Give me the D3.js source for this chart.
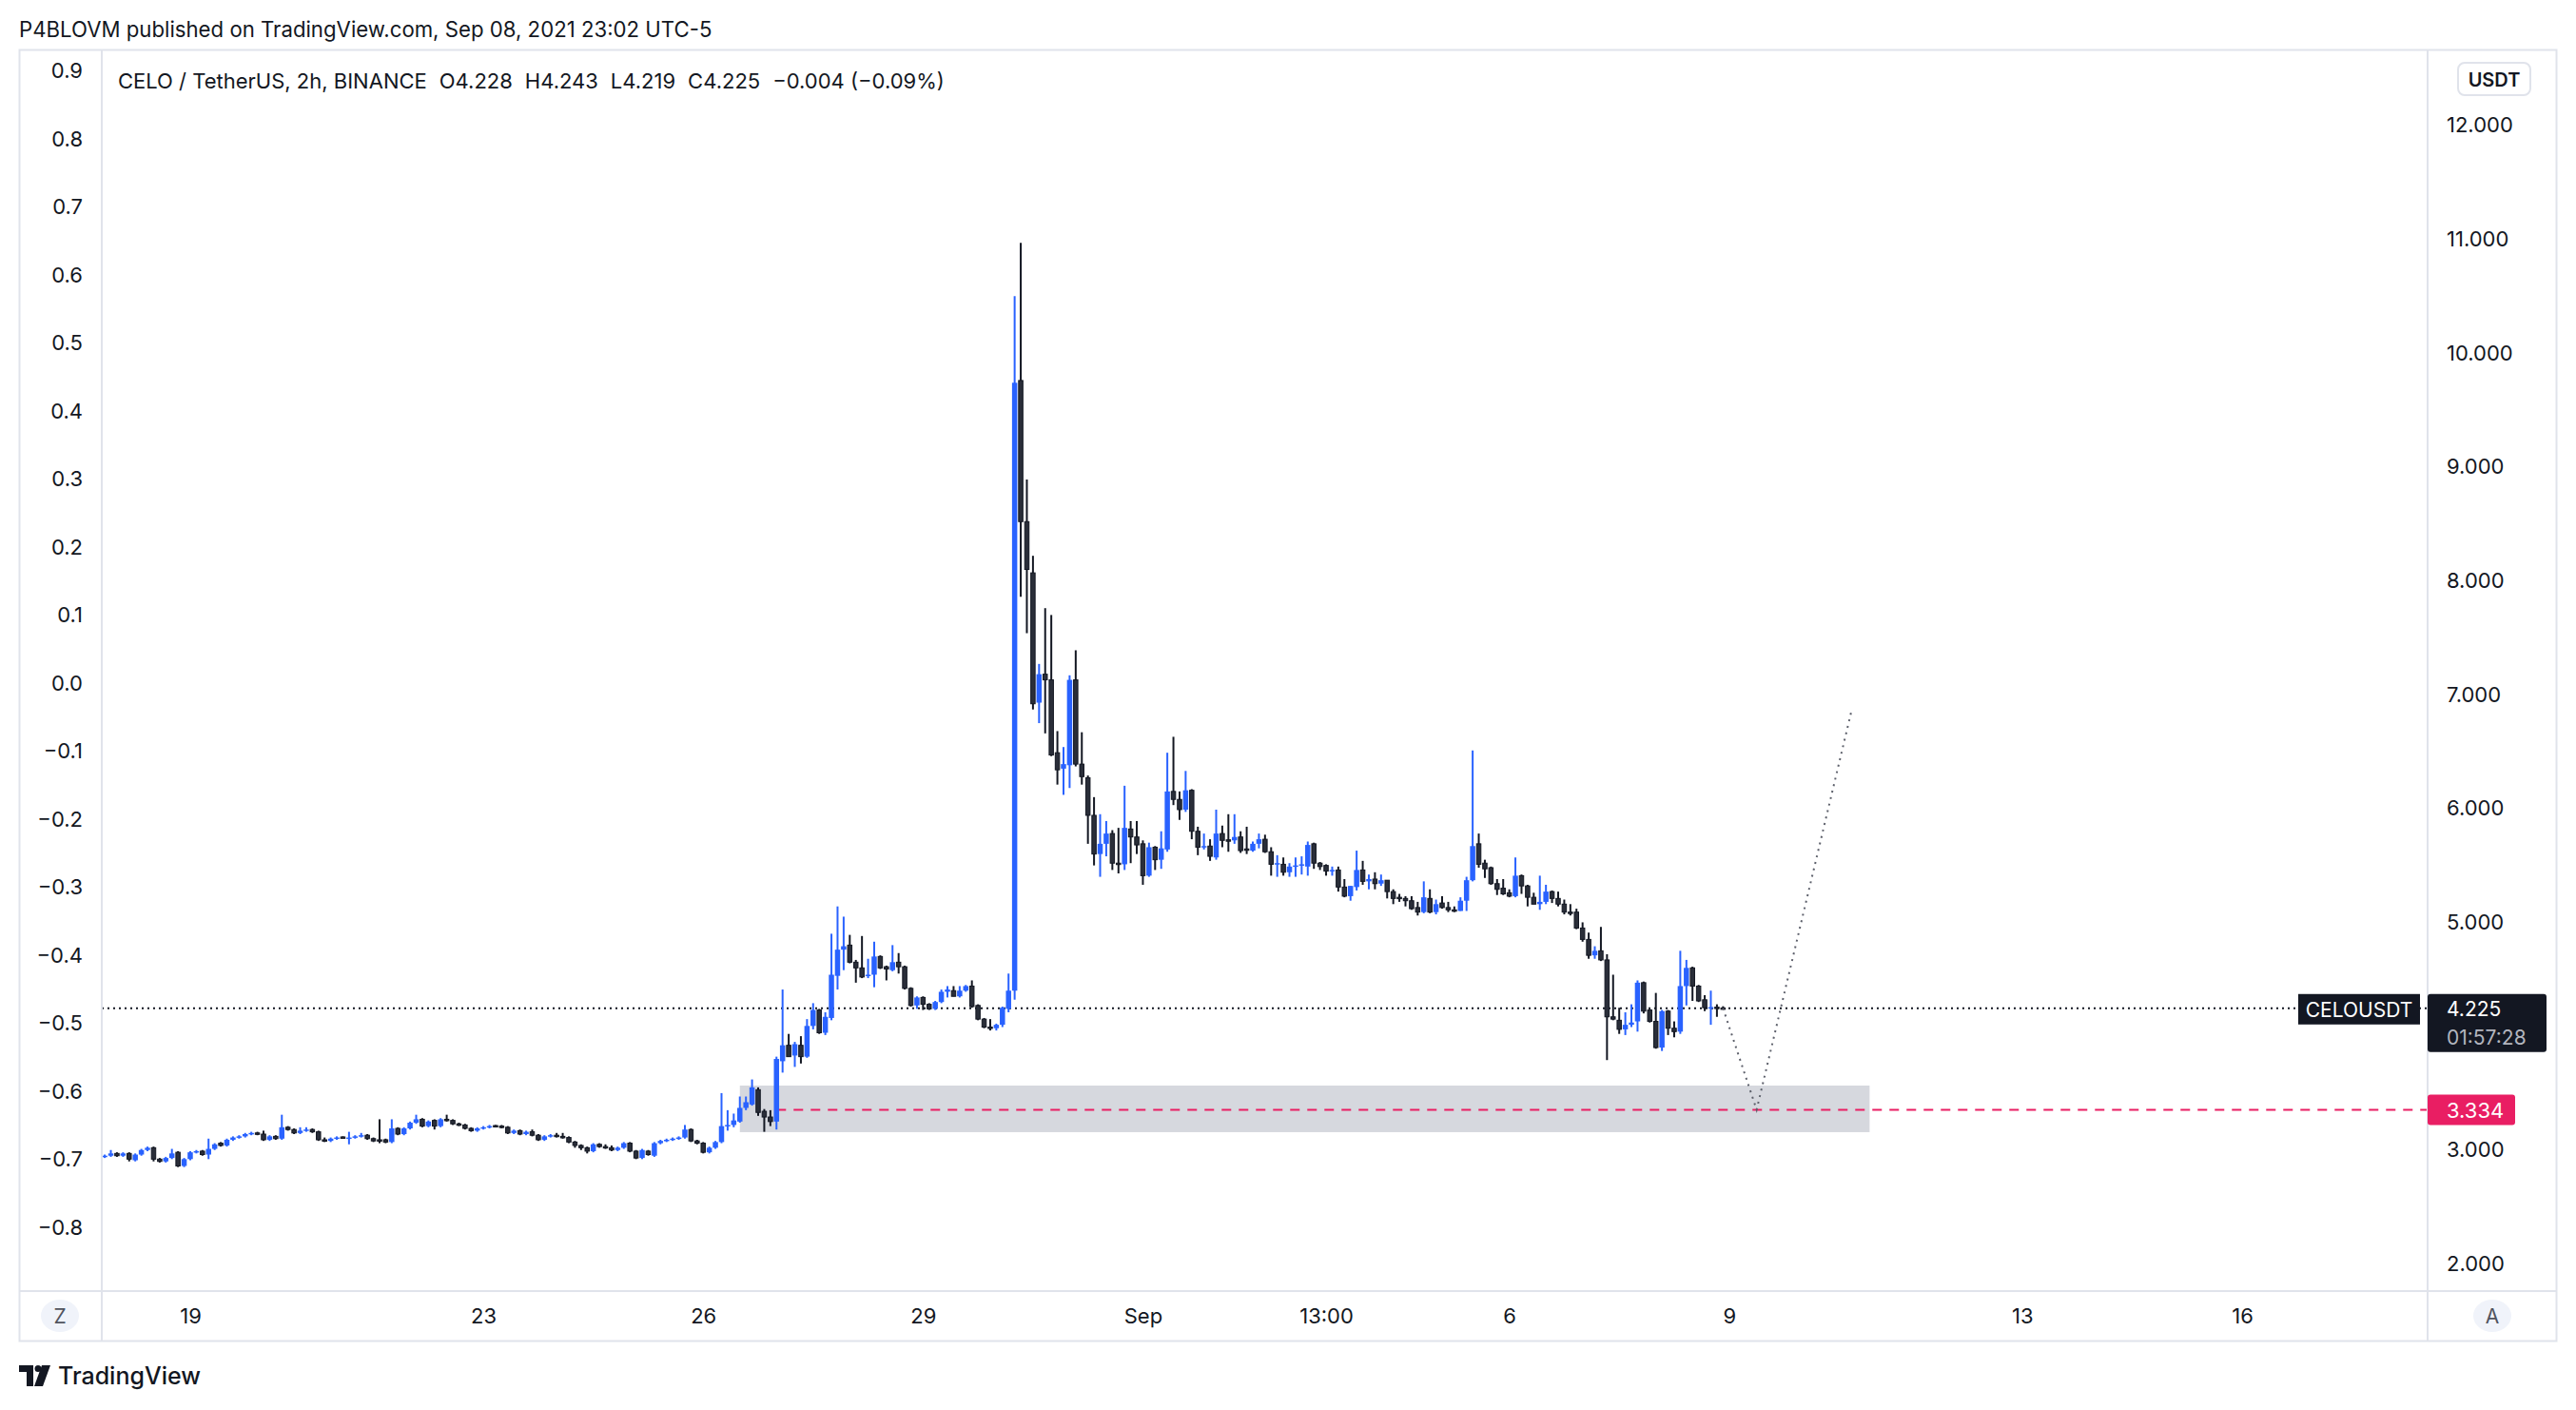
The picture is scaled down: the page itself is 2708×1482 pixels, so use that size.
<!DOCTYPE html>
<html>
<head>
<meta charset="utf-8">
<title>CELO / TetherUS, 2h</title>
<script src="https://cdn.jsdelivr.net/npm/d3@7"></script>
<style>
  body { margin: 0; background: #fff; }
  svg { display: block; font-family: Inter, "Noto Sans", sans-serif; }
  .axis text { fill: #131722; font-size: 22px; }
</style>
</head>
<body>
<script>
// ---- data (2h candles, chart time UTC-5) ----
const firstBar = Date.UTC(2021, 7, 17, 21);
const barMs = 2 * 3600 * 1000;

const opens = [
  2.92, 2.93, 2.95, 2.93, 2.95, 2.89, 2.94, 2.98, 3.00, 2.90,
  2.88, 2.91, 2.96, 2.84, 2.90, 2.96, 2.97, 2.94, 2.99, 3.04,
  3.02, 3.07, 3.09, 3.10, 3.12, 3.13, 3.12, 3.07, 3.10, 3.08,
  3.18, 3.16, 3.13, 3.15, 3.16, 3.14, 3.07, 3.06, 3.08, 3.095,
  3.09, 3.09, 3.10, 3.11, 3.08, 3.07, 3.07, 3.05, 3.17, 3.12,
  3.17, 3.22, 3.25, 3.19, 3.24, 3.19, 3.25, 3.24, 3.21, 3.20,
  3.17, 3.15, 3.17, 3.18, 3.195, 3.19, 3.18, 3.13, 3.15, 3.12,
  3.14, 3.11, 3.07, 3.10, 3.11, 3.10, 3.09, 3.05, 3.02, 3.00,
  2.97, 3.03, 3.01, 3.00, 2.98, 3.00, 3.04, 2.97, 2.91, 2.97,
  2.93, 3.04, 3.06, 3.07, 3.08, 3.09, 3.16, 3.06, 3.04, 2.96,
  3.00, 3.05, 3.19, 3.20, 3.23, 3.35, 3.38, 3.51, 3.32, 3.27,
  3.23, 3.76, 3.90, 3.81, 3.90, 3.80, 4.07, 4.21, 4.01, 4.14,
  4.51, 4.74, 4.78, 4.63, 4.58, 4.51, 4.52, 4.68, 4.59, 4.56,
  4.63, 4.59, 4.40, 4.25, 4.32, 4.26, 4.22, 4.28, 4.37, 4.38,
  4.33, 4.38, 4.42, 4.25, 4.13, 4.06, 4.05, 4.08, 4.22, 4.38,
  9.74, 8.50, 8.05, 6.91, 7.16, 7.11, 6.47, 6.33, 6.36, 7.11,
  6.37, 6.25, 5.92, 5.58, 5.67, 5.76, 5.50, 5.49, 5.80, 5.73,
  5.67, 5.39, 5.64, 5.53, 5.62, 6.13, 6.06, 5.97, 6.14, 5.78,
  5.64, 5.65, 5.55, 5.76, 5.705, 5.70, 5.73, 5.625, 5.61, 5.67,
  5.71, 5.60, 5.49, 5.49, 5.42, 5.47, 5.48, 5.47, 5.67, 5.50,
  5.48, 5.43, 5.44, 5.29, 5.21, 5.29, 5.44, 5.34, 5.36, 5.32,
  5.35, 5.25, 5.20, 5.19, 5.17, 5.11, 5.07, 5.19, 5.07, 5.15,
  5.11, 5.09, 5.08, 5.17, 5.35, 5.67, 5.50, 5.46, 5.32, 5.28,
  5.24, 5.21, 5.39, 5.30, 5.20, 5.14, 5.16, 5.25, 5.19, 5.14,
  5.07, 5.07, 4.93, 4.83, 4.69, 4.73, 4.65, 4.15, 4.12, 4.04,
  4.08, 4.11, 4.45, 4.21, 4.11, 3.88, 4.20, 4.05, 4.02, 4.42,
  4.58, 4.42, 4.30, 4.23, 4.235, 4.228
];
const highs = [
  2.94, 2.98, 2.96, 2.96, 2.96, 2.95, 2.99, 3.01, 3.01, 2.91,
  2.92, 2.99, 2.97, 2.91, 2.97, 2.98, 2.98, 3.08, 3.04, 3.05,
  3.08, 3.10, 3.11, 3.13, 3.14, 3.14, 3.15, 3.11, 3.11, 3.29,
  3.19, 3.17, 3.18, 3.18, 3.17, 3.15, 3.09, 3.09, 3.10, 3.10,
  3.14, 3.11, 3.13, 3.12, 3.09, 3.25, 3.08, 3.25, 3.18, 3.18,
  3.23, 3.29, 3.26, 3.24, 3.25, 3.26, 3.29, 3.25, 3.22, 3.21,
  3.18, 3.18, 3.19, 3.20, 3.20, 3.20, 3.19, 3.16, 3.16, 3.15,
  3.16, 3.12, 3.11, 3.12, 3.13, 3.13, 3.10, 3.06, 3.03, 3.01,
  3.04, 3.04, 3.03, 3.02, 3.01, 3.05, 3.05, 2.98, 2.99, 2.98,
  3.05, 3.07, 3.08, 3.09, 3.10, 3.20, 3.17, 3.07, 3.05, 3.01,
  3.06, 3.48, 3.33, 3.30, 3.45, 3.45, 3.60, 3.53, 3.34, 3.33,
  3.80, 4.39, 4.00, 3.93, 3.98, 4.13, 4.27, 4.22, 4.19, 4.88,
  5.12, 5.03, 4.87, 4.65, 4.86, 4.66, 4.81, 4.69, 4.60, 4.78,
  4.71, 4.60, 4.41, 4.33, 4.33, 4.27, 4.29, 4.39, 4.42, 4.42,
  4.42, 4.43, 4.47, 4.26, 4.14, 4.13, 4.09, 4.24, 4.53, 10.48,
  10.95, 8.87, 8.20, 7.25, 7.74, 7.68, 6.66, 6.52, 7.15, 7.37,
  6.65, 6.27, 6.08, 5.93, 5.87, 5.79, 5.81, 6.18, 5.87, 5.87,
  5.70, 5.68, 5.65, 5.78, 6.47, 6.61, 6.13, 6.31, 6.15, 5.82,
  5.76, 5.71, 5.97, 5.83, 5.93, 5.93, 5.78, 5.82, 5.69, 5.76,
  5.75, 5.64, 5.57, 5.55, 5.50, 5.55, 5.56, 5.69, 5.68, 5.51,
  5.49, 5.47, 5.47, 5.36, 5.30, 5.61, 5.52, 5.40, 5.42, 5.40,
  5.35, 5.27, 5.23, 5.21, 5.21, 5.16, 5.34, 5.27, 5.18, 5.21,
  5.16, 5.12, 5.20, 5.38, 6.49, 5.76, 5.53, 5.47, 5.36, 5.36,
  5.27, 5.55, 5.40, 5.31, 5.24, 5.39, 5.31, 5.26, 5.25, 5.18,
  5.14, 5.10, 4.98, 4.89, 4.77, 4.94, 4.70, 4.52, 4.23, 4.19,
  4.26, 4.47, 4.46, 4.22, 4.36, 4.21, 4.21, 4.11, 4.73, 4.65,
  4.59, 4.43, 4.34, 4.38, 4.26, 4.243
];
const lows = [
  2.91, 2.92, 2.92, 2.92, 2.88, 2.88, 2.93, 2.97, 2.88, 2.87,
  2.87, 2.90, 2.83, 2.83, 2.89, 2.95, 2.93, 2.90, 2.98, 3.01,
  3.01, 3.06, 3.08, 3.09, 3.11, 3.11, 3.06, 3.06, 3.07, 3.07,
  3.15, 3.12, 3.12, 3.14, 3.13, 3.06, 3.05, 3.05, 3.07, 3.08,
  3.03, 3.08, 3.09, 3.07, 3.05, 3.04, 3.04, 3.04, 3.11, 3.11,
  3.16, 3.21, 3.18, 3.18, 3.16, 3.18, 3.23, 3.20, 3.19, 3.16,
  3.14, 3.14, 3.16, 3.17, 3.18, 3.17, 3.12, 3.12, 3.11, 3.11,
  3.10, 3.06, 3.06, 3.09, 3.09, 3.08, 3.04, 3.00, 2.98, 2.95,
  2.96, 3.00, 2.99, 2.97, 2.97, 2.99, 2.96, 2.90, 2.90, 2.93,
  2.92, 3.03, 3.05, 3.06, 3.07, 3.08, 3.05, 3.03, 2.95, 2.95,
  2.99, 3.04, 3.15, 3.18, 3.22, 3.33, 3.37, 3.28, 3.14, 3.19,
  3.16, 3.66, 3.80, 3.71, 3.74, 3.79, 4.04, 4.00, 3.99, 4.12,
  4.39, 4.56, 4.62, 4.45, 4.49, 4.49, 4.41, 4.57, 4.47, 4.55,
  4.53, 4.39, 4.24, 4.22, 4.21, 4.21, 4.21, 4.27, 4.32, 4.33,
  4.32, 4.37, 4.23, 4.12, 4.05, 4.03, 4.03, 4.06, 4.19, 4.30,
  7.84, 7.52, 6.85, 6.73, 6.64, 6.44, 6.19, 6.10, 6.16, 6.35,
  6.19, 5.67, 5.48, 5.38, 5.56, 5.44, 5.41, 5.44, 5.50, 5.58,
  5.31, 5.38, 5.44, 5.45, 5.60, 6.01, 5.88, 5.95, 5.71, 5.57,
  5.62, 5.52, 5.53, 5.64, 5.60, 5.67, 5.59, 5.58, 5.60, 5.63,
  5.59, 5.39, 5.38, 5.39, 5.38, 5.38, 5.40, 5.39, 5.45, 5.44,
  5.39, 5.39, 5.25, 5.20, 5.17, 5.26, 5.31, 5.27, 5.27, 5.30,
  5.19, 5.14, 5.16, 5.12, 5.09, 5.04, 5.06, 5.06, 5.05, 5.10,
  5.07, 5.07, 5.08, 5.08, 5.34, 5.46, 5.37, 5.31, 5.22, 5.22,
  5.20, 5.20, 5.23, 5.12, 5.14, 5.09, 5.14, 5.15, 5.12, 5.05,
  5.04, 4.92, 4.81, 4.66, 4.66, 4.64, 3.77, 4.12, 4.00, 3.99,
  4.06, 4.02, 4.18, 4.10, 3.87, 3.85, 3.99, 3.97, 4.00, 4.25,
  4.29, 4.28, 4.20, 4.08, 4.15, 4.219
];
const closes = [
  2.93, 2.95, 2.93, 2.95, 2.90, 2.94, 2.98, 3.00, 2.90, 2.88,
  2.91, 2.95, 2.84, 2.90, 2.96, 2.97, 2.94, 2.99, 3.03, 3.02,
  3.07, 3.09, 3.10, 3.12, 3.13, 3.12, 3.07, 3.10, 3.08, 3.18,
  3.16, 3.13, 3.15, 3.16, 3.14, 3.07, 3.06, 3.08, 3.09, 3.09,
  3.09, 3.10, 3.11, 3.08, 3.06, 3.06, 3.05, 3.17, 3.12, 3.17,
  3.22, 3.25, 3.19, 3.23, 3.19, 3.25, 3.24, 3.21, 3.20, 3.17,
  3.15, 3.17, 3.18, 3.19, 3.19, 3.18, 3.13, 3.15, 3.12, 3.14,
  3.11, 3.07, 3.10, 3.11, 3.10, 3.09, 3.05, 3.02, 3.00, 2.97,
  3.03, 3.01, 3.00, 2.98, 3.00, 3.04, 2.97, 2.91, 2.98, 2.94,
  3.04, 3.06, 3.07, 3.08, 3.09, 3.16, 3.06, 3.04, 2.96, 3.00,
  3.05, 3.19, 3.20, 3.24, 3.35, 3.40, 3.53, 3.31, 3.27, 3.23,
  3.78, 3.90, 3.80, 3.91, 3.80, 4.07, 4.21, 4.01, 4.15, 4.52,
  4.74, 4.77, 4.63, 4.58, 4.50, 4.52, 4.68, 4.58, 4.57, 4.63,
  4.59, 4.40, 4.25, 4.32, 4.26, 4.22, 4.28, 4.37, 4.39, 4.33,
  4.38, 4.42, 4.24, 4.13, 4.06, 4.05, 4.08, 4.23, 4.38, 9.72,
  8.50, 8.08, 6.90, 7.16, 7.11, 6.45, 6.32, 6.37, 7.11, 6.37,
  6.26, 5.92, 5.58, 5.67, 5.76, 5.50, 5.49, 5.81, 5.73, 5.66,
  5.39, 5.64, 5.53, 5.63, 6.13, 6.06, 5.97, 6.14, 5.78, 5.64,
  5.65, 5.56, 5.76, 5.70, 5.70, 5.73, 5.61, 5.62, 5.67, 5.71,
  5.60, 5.49, 5.50, 5.42, 5.47, 5.48, 5.49, 5.66, 5.50, 5.47,
  5.43, 5.44, 5.29, 5.21, 5.30, 5.44, 5.34, 5.36, 5.32, 5.35,
  5.25, 5.19, 5.19, 5.17, 5.10, 5.07, 5.20, 5.07, 5.14, 5.11,
  5.09, 5.08, 5.17, 5.35, 5.65, 5.49, 5.45, 5.32, 5.27, 5.23,
  5.21, 5.39, 5.30, 5.20, 5.14, 5.16, 5.25, 5.19, 5.14, 5.07,
  5.06, 4.93, 4.83, 4.69, 4.73, 4.65, 4.15, 4.13, 4.04, 4.08,
  4.10, 4.45, 4.20, 4.11, 3.88, 4.20, 4.05, 4.02, 4.42, 4.58,
  4.42, 4.29, 4.23, 4.235, 4.228, 4.225
];

// axes (4.000 sits under the last-price badge, so it is not labelled)
const priceTicks = [2, 3, 5, 6, 7, 8, 9, 10, 11, 12];
const pctTicks = [0.9, 0.8, 0.7, 0.6, 0.5, 0.4, 0.3, 0.2, 0.1, 0.0, -0.1, -0.2, -0.3, -0.4, -0.5, -0.6, -0.7, -0.8];
const timeTicks = [
  Date.UTC(2021, 7, 19, 1), Date.UTC(2021, 7, 23, 1), Date.UTC(2021, 7, 26, 1),
  Date.UTC(2021, 7, 29, 1), Date.UTC(2021, 8, 1, 1), Date.UTC(2021, 8, 3, 13),
  Date.UTC(2021, 8, 6, 1), Date.UTC(2021, 8, 9, 1), Date.UTC(2021, 8, 13, 1),
  Date.UTC(2021, 8, 16, 1)
];
const timeLabels = ["19", "23", "26", "29", "Sep", "13:00", "6", "9", "13", "16"];

// drawings on the chart
const lastPrice = 4.225;
const countdown = "01:57:28";
const levelPrice = 3.334;
const levelStart = Date.UTC(2021, 7, 27, 1);
const zoneTop = 3.546, zoneBottom = 3.137;
const zoneStart = Date.UTC(2021, 7, 26, 13), zoneEnd = Date.UTC(2021, 8, 10, 23);
const projTimes = [Date.UTC(2021, 8, 8, 23), Date.UTC(2021, 8, 9, 10), Date.UTC(2021, 8, 10, 17)];
const projPrices = [4.225, 3.334, 6.83];

const headerText = "P4BLOVM published on TradingView.com, Sep 08, 2021 23:02 UTC-5";
const legendText = "CELO / TetherUS, 2h, BINANCE\u2002\u200AO4.228\u2002\u200AH4.243\u2002\u200AL4.219\u2002\u200AC4.225\u2002\u200A\u22120.004 (\u22120.09%)";

// ---- layout ----
const W = 2708, H = 1482;
const frame = { left: 20, top: 52, right: 2687, bottom: 1409 };
const plotL = 107, plotR = 2552, plotT = 52, plotB = 1357;

const upColor = "#2962ff", downColor = "#131722", downFill = "#2a2e39";
const gridLine = "#e0e3eb";

const candles = opens.map((o, i) => ({
  t: new Date(firstBar + i * barMs), o, h: highs[i], l: lows[i], c: closes[i]
}));

const x = d3.scaleUtc()
  .domain([new Date(firstBar), new Date(Date.UTC(2021, 8, 16, 1))])
  .range([110.1, 2357]);
const y = d3.scaleLinear().domain([2, 12]).range([1326, 129.5]);
const yPct = d3.scaleLinear().domain([-0.8, 0.9]).range([1288, 72.5]);

const svg = d3.select("body").append("svg")
  .attr("width", W).attr("height", H);

svg.append("rect").attr("width", W).attr("height", H).attr("fill", "#fff");

// header
svg.append("text")
  .attr("x", 20).attr("y", 31).attr("dy", "0.35em")
  .attr("font-size", 22.2).attr("fill", "#131722")
  .text(headerText);

// frame
svg.append("rect")
  .attr("x", frame.left + 0.5).attr("y", frame.top + 0.5)
  .attr("width", frame.right - frame.left).attr("height", frame.bottom - frame.top)
  .attr("fill", "none").attr("stroke", gridLine).attr("stroke-width", 2);
[plotL, plotR].forEach(px => svg.append("line")
  .attr("x1", px).attr("x2", px).attr("y1", frame.top).attr("y2", frame.bottom)
  .attr("stroke", gridLine).attr("stroke-width", 2));
svg.append("line")
  .attr("x1", frame.left).attr("x2", frame.right).attr("y1", plotB).attr("y2", plotB)
  .attr("stroke", gridLine).attr("stroke-width", 2);

// plot area
svg.append("clipPath").attr("id", "plotClip")
  .append("rect").attr("x", plotL + 1).attr("y", plotT + 1)
  .attr("width", plotR - plotL - 2).attr("height", plotB - plotT - 2);
const plot = svg.append("g").attr("clip-path", "url(#plotClip)");

// support zone
plot.append("rect")
  .attr("x", x(new Date(zoneStart))).attr("y", y(zoneTop))
  .attr("width", x(new Date(zoneEnd)) - x(new Date(zoneStart)))
  .attr("height", y(zoneBottom) - y(zoneTop))
  .attr("fill", "#d6d8de");

// last price dotted line
plot.append("line")
  .attr("x1", plotL).attr("x2", plotR)
  .attr("y1", y(lastPrice)).attr("y2", y(lastPrice))
  .attr("stroke", "#131722").attr("stroke-width", 2).attr("stroke-dasharray", "2,4");

// level line
plot.append("line")
  .attr("x1", x(new Date(levelStart))).attr("x2", plotR)
  .attr("y1", y(levelPrice)).attr("y2", y(levelPrice))
  .attr("stroke", "#e91e63").attr("stroke-width", 2).attr("stroke-dasharray", "10,8");

// candles
plot.selectAll(".wick").data(candles).join("line")
  .attr("class", "wick")
  .attr("x1", d => x(d.t)).attr("x2", d => x(d.t))
  .attr("y1", d => y(d.h)).attr("y2", d => y(d.l))
  .attr("stroke", d => d.c >= d.o ? upColor : downColor)
  .attr("stroke-width", 2);

plot.selectAll(".body").data(candles).join("rect")
  .attr("class", "body")
  .attr("x", d => x(d.t) - (d.c >= d.o ? 2.75 : 2.25))
  .attr("y", d => y(Math.max(d.o, d.c)))
  .attr("width", d => d.c >= d.o ? 5.5 : 4.5)
  .attr("height", d => Math.max(1.5, Math.abs(y(d.o) - y(d.c))))
  .attr("fill", d => d.c >= d.o ? upColor : downFill)
  .attr("stroke", d => d.c >= d.o ? "none" : downColor)
  .attr("stroke-width", 1);

// projection path
const proj = projTimes.map((t, i) => [x(new Date(t)), y(projPrices[i])]);
plot.append("path")
  .attr("d", d3.line()(proj))
  .attr("fill", "none").attr("stroke", "#5d606b")
  .attr("stroke-width", 2).attr("stroke-dasharray", "2,5");

// legend
svg.append("text")
  .attr("x", 124).attr("y", 85).attr("dy", "0.35em")
  .attr("font-size", 22).attr("fill", "#131722")
  .attr("xml:space", "preserve")
  .text(legendText);

// left axis
const leftAxis = svg.append("g").attr("class", "axis")
  .attr("transform", `translate(${plotL},0)`)
  .call(d3.axisLeft(yPct).tickValues(pctTicks).tickSize(0).tickPadding(20)
    .tickFormat(d => d3.format(".1f")(d).replace("-", "\u2212")));
leftAxis.select(".domain").remove();
leftAxis.selectAll("text").attr("dy", "0.42em");

// right axis
const rightAxis = svg.append("g").attr("class", "axis")
  .attr("transform", `translate(${plotR},0)`)
  .call(d3.axisRight(y).tickValues(priceTicks).tickSize(0).tickPadding(20)
    .tickFormat(d3.format(".3f")));
rightAxis.select(".domain").remove();
rightAxis.selectAll("text").attr("dy", "0.42em");

// bottom axis
const bottomAxis = svg.append("g").attr("class", "axis")
  .attr("transform", `translate(0,${plotB})`)
  .call(d3.axisBottom(x).tickValues(timeTicks.map(t => new Date(t))).tickSize(0)
    .tickFormat((d, i) => timeLabels[i]));
bottomAxis.select(".domain").remove();
bottomAxis.selectAll("text").attr("y", 26).attr("dy", "0.38em");

svg.selectAll(".axis").attr("font-family", null).attr("font-size", null);

// USDT unit box
svg.append("rect")
  .attr("x", 2584).attr("y", 66).attr("width", 76).attr("height", 34).attr("rx", 7)
  .attr("fill", "#fff").attr("stroke", gridLine).attr("stroke-width", 2);
svg.append("text")
  .attr("x", 2622).attr("y", 84).attr("dy", "0.35em").attr("text-anchor", "middle")
  .attr("font-size", 20).attr("font-weight", 600).attr("fill", "#131722")
  .text("USDT");

// symbol label + last price badge
svg.append("rect")
  .attr("x", 2416).attr("y", y(lastPrice) - 15).attr("width", 128).attr("height", 32)
  .attr("fill", "#131722");
svg.append("text")
  .attr("x", 2480).attr("y", y(lastPrice) + 2).attr("dy", "0.35em").attr("text-anchor", "middle")
  .attr("font-size", 21).attr("fill", "#fff").text("CELOUSDT");

svg.append("rect")
  .attr("x", plotR).attr("y", y(lastPrice) - 15).attr("width", 125).attr("height", 61).attr("rx", 3)
  .attr("fill", "#131722");
svg.append("text")
  .attr("x", 2572).attr("y", y(lastPrice) + 1).attr("dy", "0.35em")
  .attr("font-size", 21).attr("fill", "#fff").text(d3.format(".3f")(lastPrice));
svg.append("text")
  .attr("x", 2572).attr("y", y(lastPrice) + 31).attr("dy", "0.35em")
  .attr("font-size", 21).attr("fill", "#b2b5be").text(countdown);

// level badge
svg.append("rect")
  .attr("x", plotR).attr("y", y(levelPrice) - 16).attr("width", 92).attr("height", 32).attr("rx", 3)
  .attr("fill", "#e91e63");
svg.append("text")
  .attr("x", 2572).attr("y", y(levelPrice) + 1).attr("dy", "0.35em")
  .attr("font-size", 22).attr("fill", "#fff").text(d3.format(".3f")(levelPrice));

// Z / A buttons
[[63, "Z"], [2620, "A"]].forEach(([bx, label]) => {
  svg.append("ellipse").attr("cx", bx).attr("cy", 1383).attr("rx", 20).attr("ry", 17)
    .attr("fill", "#f0f3fa");
  svg.append("text").attr("x", bx).attr("y", 1384).attr("dy", "0.35em")
    .attr("text-anchor", "middle").attr("font-size", 21).attr("fill", "#50535e").text(label);
});

// TradingView footer
const logo = svg.append("g").attr("transform", "translate(20,1435)").attr("fill", "#131722");
logo.append("path").attr("d", "M0 0 H15 V22 H8 V7 H0 Z");
logo.append("circle").attr("cx", 20).attr("cy", 3.5).attr("r", 3.5);
logo.append("path").attr("d", "M24 0 H33 L25 22 H16 Z");
svg.append("text")
  .attr("x", 61).attr("y", 1446).attr("dy", "0.35em")
  .attr("font-size", 25).attr("font-weight", 500).attr("fill", "#131722")
  .text("TradingView");
</script>
</body>
</html>
